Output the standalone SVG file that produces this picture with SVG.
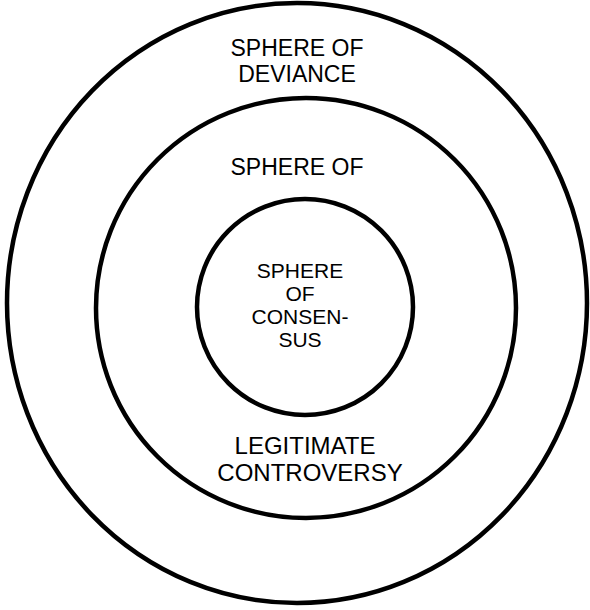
<svg xmlns="http://www.w3.org/2000/svg" width="590" height="610" viewBox="0 0 590 610">
<style>
.ring{fill:none;stroke:#000;stroke-width:4.5}
.t{font-family:"Liberation Sans",Arial,sans-serif;fill:#000;text-anchor:middle}
.big{font-size:23px}
.mid{font-size:24px}
.small{font-size:21px}
</style>
<rect width="590" height="610" fill="#fff"/>
<g id="deviance">
<ellipse class="ring" cx="297" cy="303" rx="290" ry="300"/>
<text class="t big" x="297" y="56">SPHERE OF</text>
<text class="t big" x="297" y="82">DEVIANCE</text>
</g>
<g id="controversy">
<circle class="ring" cx="306" cy="308" r="210"/>
<text class="t big" x="297" y="175">SPHERE OF</text>
<text class="t mid" x="305" y="454">LEGITIMATE</text>
<text class="t mid" x="310" y="481">CONTROVERSY</text>
</g>
<g id="consensus">
<circle class="ring" cx="305" cy="307" r="108"/>
<text class="t small" x="300" y="278">SPHERE</text>
<text class="t small" x="300" y="301">OF</text>
<text class="t small" x="300" y="324">CONSEN-</text>
<text class="t small" x="300" y="347">SUS</text>
</g>
<g id="connectors"/>
</svg>
